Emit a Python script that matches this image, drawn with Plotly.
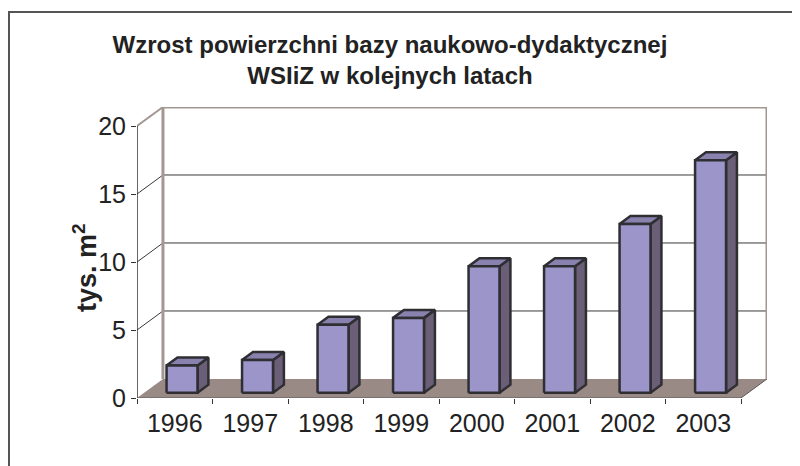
import plotly.graph_objects as go

years = ["1996", "1997", "1998", "1999", "2000", "2001", "2002", "2003"]
values = [2.0, 2.4, 5.0, 5.5, 9.3, 9.3, 12.4, 17.1]
y_ticks = [0, 5, 10, 15, 20]

title_text = "<b>Wzrost powierzchni bazy naukowo-dydaktycznej<br>WSIiZ w kolejnych latach</b>"
y_title = "<b>tys. m<sup>2</sup></b>"

# oblique projection parameters (depth shift in axis units)
DX, DY = 0.344, 1.40
BAR_W = 0.41
D0, BD = 0.28, 0.42
YMAX = 20
n = len(years)

C_FRONT = "#9B95C9"
C_SIDE = "#6A5F76"
C_TOP = "#8A82AE"
C_EDGE = "#2E2E33"
C_FLOOR = "#9A8A85"
C_WALL = "#A39792"
C_GRID = "#3A3A3A"

fig = go.Figure()

def poly(xs, ys, fill, line_color=None, width=0):
    fig.add_trace(go.Scatter(
        x=xs + [xs[0]], y=ys + [ys[0]], mode="lines", fill="toself",
        fillcolor=fill, line=dict(color=line_color or fill, width=width),
        hoverinfo="skip", showlegend=False))

def line(xs, ys, color, width):
    fig.add_trace(go.Scatter(x=xs, y=ys, mode="lines",
                             line=dict(color=color, width=width),
                             hoverinfo="skip", showlegend=False))

# floor
poly([0, n, n + DX, DX], [0, 0, DY, DY], C_FLOOR)
line([0, n, n + DX], [0, 0, DY], "#5A5A5A", 1)

# back wall + left wall gridlines
for t in y_ticks[1:-1]:
    line([0, DX, n + DX], [t, t + DY, t + DY], C_GRID, 1)

# wall edges
line([DX, DX, n + DX, n + DX], [DY, YMAX + DY, YMAX + DY, DY], C_WALL, 3)
line([0, DX], [YMAX, YMAX + DY], C_WALL, 2)

# front y axis line
line([0, 0], [0, YMAX], "#333333", 1.5)

# bars
for i, v in enumerate(values):
    x0 = i + (1 - BAR_W) / 2 + D0 * DX
    x1 = x0 + BAR_W
    y0 = D0 * DY
    y1 = v + D0 * DY
    ddx, ddy = BD * DX, BD * DY
    poly([x1, x1 + ddx, x1 + ddx, x1], [y0, y0 + ddy, y1 + ddy, y1], C_SIDE, C_EDGE, 2.5)
    poly([x0, x1, x1 + ddx, x0 + ddx], [y1, y1, y1 + ddy, y1 + ddy], C_TOP, C_EDGE, 2.5)
    poly([x0, x1, x1, x0], [y0, y0, y1, y1], C_FRONT, C_EDGE, 2.5)

# page body has an 8px margin; figure coordinates are screen - 8
W, H = 792, 458
L, T = 129, 99
pw, ph = 630, 291
R = W - L - pw
B = H - T - ph
bottom = T + ph

fig.update_layout(
    width=W, height=H,
    margin=dict(l=L, r=R, t=T, b=B),
    paper_bgcolor="white", plot_bgcolor="white",
    font=dict(family="Liberation Sans, Arial, sans-serif", color="#222222"),
    title=dict(text=title_text, x=382 / W, xanchor="center",
               y=1 - 45 / H, yanchor="top", yref="container",
               font=dict(size=24, color="#222222")),
    xaxis=dict(range=[0, n + DX], showgrid=False, zeroline=False, showline=False,
               tickmode="array", tickvals=[i + 0.5 for i in range(n)], ticktext=years,
               ticks="outside", ticklen=3, tickcolor="rgba(0,0,0,0)",
               tickfont=dict(size=25, color="#222222"),
               minor=dict(tickmode="array", tickvals=list(range(n + 1)),
                          ticks="outside", ticklen=5, tickcolor="#333333", tickwidth=1,
                          showgrid=False),
               fixedrange=True),
    yaxis=dict(range=[0, YMAX + DY], showgrid=False, zeroline=False, showline=False,
               tickmode="array", tickvals=y_ticks, ticktext=[str(t) for t in y_ticks],
               ticks="outside", ticklen=5, tickcolor="#333333", tickwidth=1,
               tickfont=dict(size=25, color="#222222"), fixedrange=True),
    annotations=[dict(text=y_title, textangle=-90, showarrow=False,
                      xref="paper", yref="paper",
                      x=(77 - L) / pw, y=(bottom - 260) / ph,
                      xanchor="center", yanchor="middle",
                      font=dict(size=27, color="#222222"))],
    shapes=[dict(type="rect", xref="paper", yref="paper",
                 x0=(1 - L) / pw, x1=(820 - L) / pw,
                 y0=(bottom - 480) / ph, y1=(bottom - 4) / ph,
                 line=dict(color="#555555", width=2), fillcolor="rgba(0,0,0,0)",
                 layer="below")],
)

fig.write_html("out.html")
